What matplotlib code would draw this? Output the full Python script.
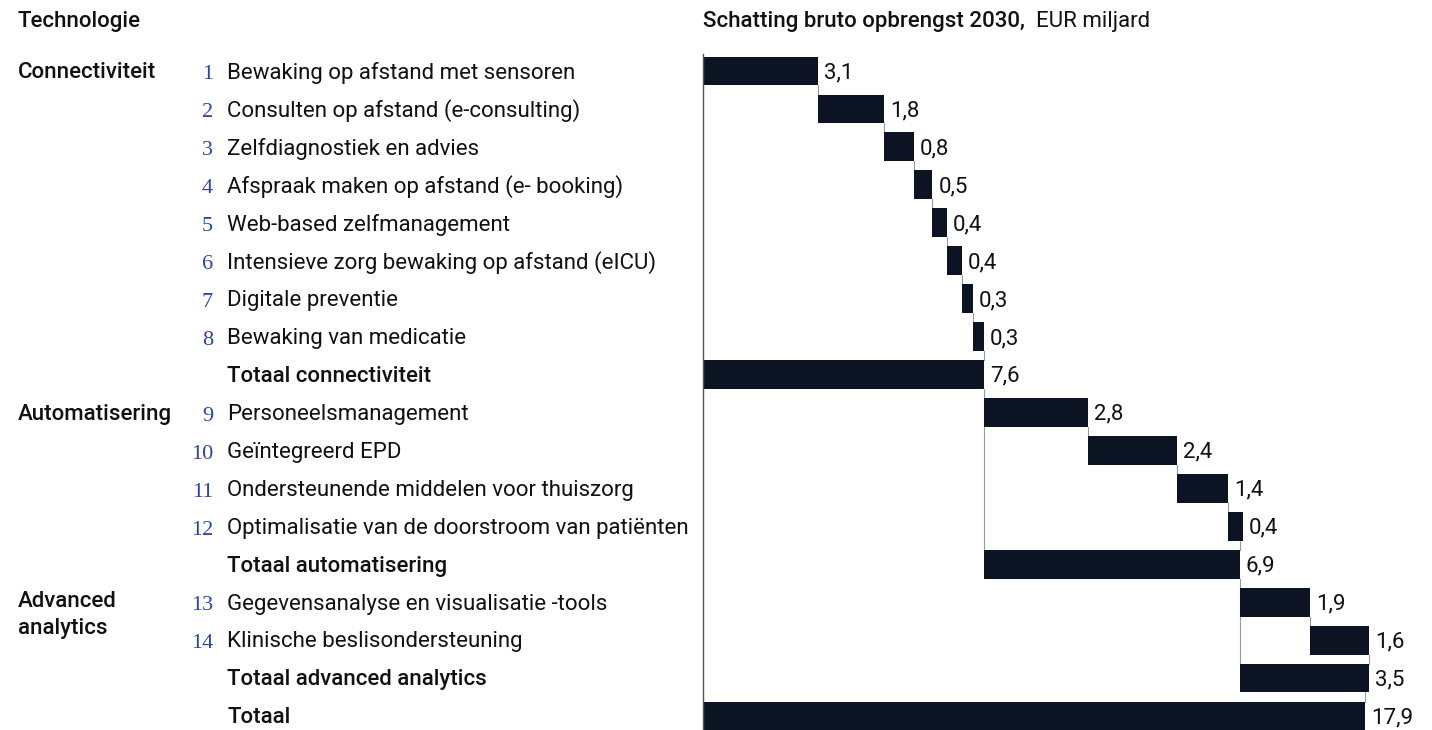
import matplotlib
matplotlib.use('Agg')
import matplotlib.pyplot as plt
from matplotlib.transforms import blended_transform_factory

# ---------------- data ----------------
group_names = ['Connectiviteit', 'Automatisering', 'Advanced\nanalytics']
conn_labels = ['Bewaking op afstand met sensoren', 'Consulten op afstand (e-consulting)',
               'Zelfdiagnostiek en advies', 'Afspraak maken op afstand (e- booking)',
               'Web-based zelfmanagement', 'Intensieve zorg bewaking op afstand (eICU)',
               'Digitale preventie', 'Bewaking van medicatie']
conn_values = [3.1, 1.8, 0.8, 0.5, 0.4, 0.4, 0.3, 0.3]
auto_labels = ['Personeelsmanagement', 'Geïntegreerd EPD',
               'Ondersteunende middelen voor thuiszorg',
               'Optimalisatie van de doorstroom van patiënten']
auto_values = [2.8, 2.4, 1.4, 0.4]
ana_labels = ['Gegevensanalyse en visualisatie -tools', 'Klinische beslisondersteuning']
ana_values = [1.9, 1.6]
total_labels = ['Totaal connectiviteit', 'Totaal automatisering', 'Totaal advanced analytics']
group_totals = [7.6, 6.9, 3.5]
grand_label = 'Totaal'
grand_total = 17.9

header_left = 'Technologie'
header_right_bold = 'Schatting bruto opbrengst 2030,'
header_right_reg = '  EUR miljard'

# ---------------- style ----------------
BAR = '#0c1424'
LINE = '#9a9a9a'
NUMC = '#2b45a6'
TXT = '#111111'
FS = 16
SANS = ['Roboto', 'DejaVu Sans']
SERIF = ['Liberation Serif', 'DejaVu Serif']
DY = 0.05  # small downward text nudge (rows)

W, H = 14.32, 7.30
fig = plt.figure(figsize=(W, H), dpi=100)
ax_left_px, ax_top_px = 703, 40
row0_px, row_step = 71, 37.94
px_per_unit = 37.0
nrows = 18
top_row = -(row0_px - ax_top_px) / row_step
bot_row = (nrows - 1) + (730 - (row0_px + row_step * (nrows - 1))) / row_step
ax = fig.add_axes([ax_left_px / 1432, 0, 1 - ax_left_px / 1432, (730 - ax_top_px) / 730])
ax.set_xlim(0, (1432 - ax_left_px) / px_per_unit)
ax.set_ylim(bot_row, top_row)
ax.axis('off')

tr = blended_transform_factory(fig.transFigure, ax.transData)

bh = 0.76
groups = [(conn_labels, conn_values), (auto_labels, auto_values), (ana_labels, ana_values)]


def fmt(v):
    return f'{v:.1f}'.replace('.', ',')


row = 0
num = 1
start = 0.0
lines = []
for (labels, values), gname, tot, tlabel in zip(groups, group_names, group_totals, total_labels):
    first_row = row
    if '\n' in gname:
        ax.text(18 / 1432, row - 0.3, gname, transform=tr, fontsize=FS, family=SANS,
                weight='medium', va='top', ha='left', color=TXT, linespacing=1.4)
    else:
        ax.text(18 / 1432, row + DY, gname, transform=tr, fontsize=FS, family=SANS,
                weight='medium', va='center', ha='left', color=TXT)
    cum = start
    prev = False
    for lab, v in zip(labels, values):
        ax.barh(row, v, left=cum, height=bh, color=BAR, edgecolor='none')
        ax.text(cum + v + 6 / px_per_unit, row + DY, fmt(v), fontsize=FS,
                family=SANS, va='center', ha='left', color=TXT)
        ax.text(213 / 1432, row + 0.1, str(num), transform=tr, fontsize=FS, family=SERIF,
                va='center', ha='right', color=NUMC)
        ax.text(227 / 1432, row + DY, lab, transform=tr, fontsize=FS, family=SANS,
                va='center', ha='left', color=TXT)
        if prev:
            lines.append((cum, row - 1 + bh / 2, row - bh / 2))
        prev = True
        cum += v
        num += 1
        row += 1
    ax.barh(row, tot, left=start, height=bh, color=BAR, edgecolor='none')
    ax.text(start + tot + 6 / px_per_unit, row + DY, fmt(tot), fontsize=FS,
            family=SANS, va='center', ha='left', color=TXT)
    ax.text(227 / 1432, row + DY, tlabel, transform=tr, fontsize=FS, family=SANS, weight='medium',
            va='center', ha='left', color=TXT)
    lines.append((start + tot, row - 1 + bh / 2, row - bh / 2))
    if start > 0:
        lines.append((start, first_row - 1 + bh / 2, row - bh / 2))
    start += tot
    row += 1

ax.barh(row, grand_total, left=0, height=bh, color=BAR, edgecolor='none')
ax.text(grand_total + 6 / px_per_unit, row + DY, fmt(grand_total), fontsize=FS,
        family=SANS, va='center', ha='left', color=TXT)
ax.text(227 / 1432, row + DY, grand_label, transform=tr, fontsize=FS, family=SANS, weight='medium',
        va='center', ha='left', color=TXT)
lines.append((grand_total, row - 1 + bh / 2, row - bh / 2))

for x, y0, y1 in lines:
    ax.plot([x, x], [y0, y1], color=LINE, lw=0.8, zorder=0)
ax.plot([0, 0], [-0.45, bot_row], color='#555555', lw=1.0, zorder=3, clip_on=False)

# headers
fig.text(18 / 1432, 1 - 21 / 730, header_left, fontsize=FS, family=SANS, weight='medium',
         va='center', ha='left', color=TXT)
t1 = fig.text(703 / 1432, 1 - 21 / 730, header_right_bold, fontsize=FS, family=SANS,
              weight='medium', va='center', ha='left', color=TXT)
ax.annotate(header_right_reg, xy=(1, 0.5), xycoords=t1, va='center', ha='left',
            fontsize=FS, family=SANS, color=TXT)

fig.savefig('out.png', dpi=100)
